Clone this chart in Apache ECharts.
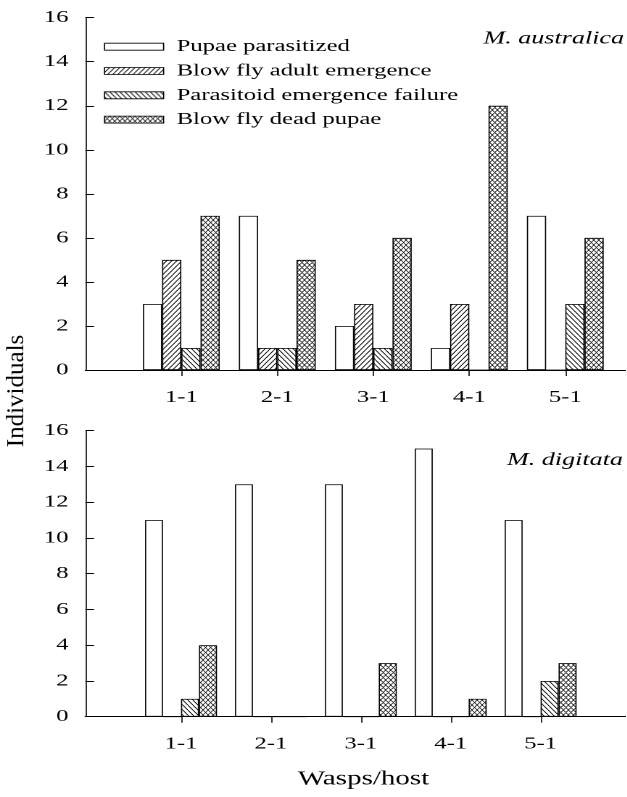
<!DOCTYPE html>
<html>
<head>
<meta charset="utf-8">
<script src="https://cdn.jsdelivr.net/npm/echarts@6/dist/echarts.min.js"></script>
<style>
html, body { margin: 0; padding: 0; background: #fff; overflow: hidden; width: 627px; height: 797px; }
#chart { position: absolute; left: 0; top: 0; height: 797px; transform-origin: 0 0; }
</style>
</head>
<body>
<div id="chart"></div>
<script>
// ---- data ----
const categories = ['1-1', '2-1', '3-1', '4-1', '5-1'];
const seriesNames = ['Pupae parasitized', 'Blow fly adult emergence', 'Parasitoid emergence failure', 'Blow fly dead pupae'];
// M. australica (top panel)
const ausPupae   = [3, 7, 2, 1, 7];
const ausAdult   = [5, 1, 3, 3, 0];
const ausFailure = [1, 1, 1, 0, 3];
const ausDead    = [7, 5, 6, 12, 6];
// M. digitata (bottom panel)
const digPupae   = [11, 13, 13, 15, 11];
const digAdult   = [0, 0, 0, 0, 0];
const digFailure = [1, 0, 0, 0, 2];
const digDead    = [4, 0, 3, 1, 3];
const yMin = 0, yMax = 16, yStep = 2;
const panelTitles = ['M. australica', 'M. digitata'];
const xTitle = 'Wasps/host';
const yTitle = 'Individuals';

// ---- layout (horizontal stretch of the whole figure) ----
const S = 1.45;
const W = 627 / S;
const px = v => v / S;
const FONT = '"Liberation Serif", "Times New Roman", serif';
const DPR = 2;

const el = document.getElementById('chart');
el.style.width = W + 'px';
el.style.transform = 'scaleX(' + S + ')';

function hatch(type) {
  const w = type === 'cross' ? 3.5 : 3.5, h = type === 'cross' ? 5 : 5;
  const c = document.createElement('canvas');
  c.width = Math.round(w * DPR); c.height = Math.round(h * DPR);
  const g = c.getContext('2d');
  g.fillStyle = '#fff'; g.fillRect(0, 0, c.width, c.height);
  g.strokeStyle = '#000'; g.lineWidth = type === 'cross' ? 1.1 : 1.3;
  const A = c.width, B = c.height;
  g.beginPath();
  for (let k = -1; k <= 1; k++) {
    if (type === 'fwd' || type === 'cross') { g.moveTo(k * A, B); g.lineTo((k + 1) * A, 0); }
    if (type === 'back' || type === 'cross') { g.moveTo(k * A, 0); g.lineTo((k + 1) * A, B); }
  }
  g.stroke();
  return { image: c, repeat: 'repeat', scaleX: 1 / DPR, scaleY: 1 / DPR };
}
const fills = ['#ffffff', hatch('fwd'), hatch('back'), hatch('cross')];

const catPos = categories.map((c, i) => i + 1);

function xAxisCfg(gridIndex, min, max) {
  return {
    type: 'value', gridIndex, min, max,
    splitLine: { show: false },
    axisLine: { show: true, onZero: false, lineStyle: { color: '#000', width: 1 } },
    axisTick: { show: true, customValues: catPos, inside: false, length: 6, lineStyle: { color: '#000', width: 0.8 } },
    axisLabel: { show: true, customValues: catPos, formatter: v => categories[Math.round(v) - 1], margin: 19,
      fontSize: 17, fontFamily: FONT, color: '#000' }
  };
}
function yAxisCfg(gridIndex) {
  return {
    type: 'value', gridIndex, min: yMin, max: yMax, interval: yStep,
    splitLine: { show: false },
    axisLine: { show: true, onZero: false, lineStyle: { color: '#000', width: 0.8 } },
    axisTick: { show: true, inside: true, length: 6, lineStyle: { color: '#000', width: 1 } },
    axisLabel: { margin: 11.6, fontSize: 17, fontFamily: FONT, color: '#000' }
  };
}

function barSeries(name, values, idx, axisIndex) {
  return {
    type: 'bar', name, xAxisIndex: axisIndex, yAxisIndex: axisIndex,
    data: values.map((v, i) => [catPos[i], v]),
    barGap: '0%', barCategoryGap: '20%',
    itemStyle: { color: fills[idx], borderColor: '#000', borderWidth: 0.8 },
    emphasis: { disabled: true },
    silent: true
  };
}

const topSets = [ausPupae, ausAdult, ausFailure, ausDead];
const botSets = [digPupae, digAdult, digFailure, digDead];
const series = [];
topSets.forEach((d, i) => series.push(barSeries(seriesNames[i], d, i, 0)));
botSets.forEach((d, i) => series.push(barSeries(seriesNames[i], d, i, 1)));

const chart = echarts.init(el, null, { renderer: 'canvas', devicePixelRatio: DPR, width: W, height: 797 });
chart.setOption({
  animation: false,
  backgroundColor: '#fff',
  grid: [
    { left: px(85.3), right: 0, top: 17.7, height: 352.3, containLabel: false, outerBoundsMode: 'none' },
    { left: px(85.3), right: 0, top: 430.7, height: 286, containLabel: false, outerBoundsMode: 'none' }
  ],
  xAxis: [
    xAxisCfg(0, 0, (627 - 85.3) / 96),
    xAxisCfg(1, -0.0645, -0.0645 + (627 - 85.3) / 89.9)
  ],
  yAxis: [yAxisCfg(0), yAxisCfg(1)],
  legend: {
    data: seriesNames, orient: 'vertical', left: px(104), top: 38.2, padding: 0,
    itemWidth: px(59), itemHeight: 7, itemGap: 7.3, icon: 'rect', selectedMode: false,
    textStyle: { fontFamily: FONT, fontSize: 17, color: '#000', lineHeight: 17, padding: [0, 0, 0, 4] },
    itemStyle: { borderColor: '#000', borderWidth: 0.8 }
  },
  graphic: [
    { type: 'text', x: px(624), y: 39, silent: true,
      style: { text: panelTitles[0], font: 'italic 18px ' + FONT, fill: '#000', textAlign: 'right', textVerticalAlign: 'middle' } },
    { type: 'text', x: px(623), y: 460.5, silent: true,
      style: { text: panelTitles[1], font: 'italic 18px ' + FONT, fill: '#000', textAlign: 'right', textVerticalAlign: 'middle' } },
    { type: 'text', x: px(363.5), y: 779, silent: true,
      style: { text: xTitle, font: '20px ' + FONT, fill: '#000', textAlign: 'center', textVerticalAlign: 'middle' } },
    { type: 'text', x: px(16.5), y: 391, rotation: Math.PI / 2, scaleY: 1 / S, silent: true,
      style: { text: yTitle, font: '25px ' + FONT, fill: '#000', textAlign: 'center', textVerticalAlign: 'middle' } }
  ],
  series
});
</script>
</body>
</html>
